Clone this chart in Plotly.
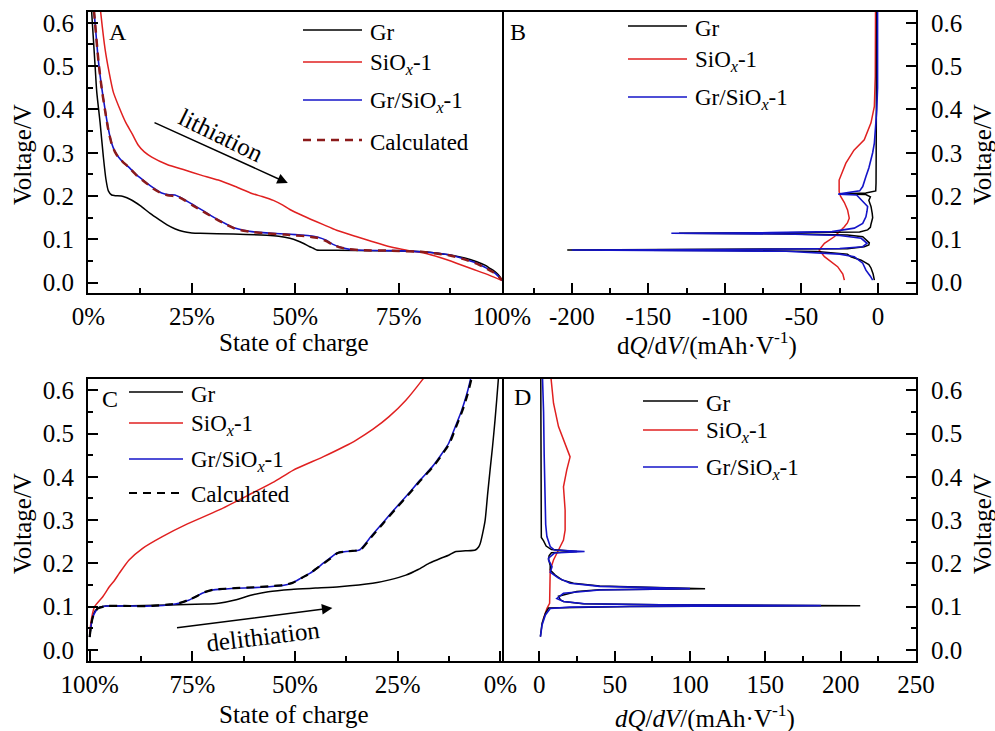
import plotly.graph_objects as go

W, H = 995, 731
FONT = "Liberation Serif, Times New Roman, serif"
BLACK, RED, BLUE, CALC_RED = "#000000", "#e02020", "#1414c8", "#8b1a1a"

# ---------------- A: lithiation, voltage vs state of charge ----------------
A_GR_SOC = [0.4, 0.8, 1.2, 1.6, 2.0, 2.8, 3.6, 4.2, 4.8, 5.6, 6.4, 8.4, 10.4, 12.5, 14.9, 17.0,
            18.9, 21.0, 22.9, 25.0, 27.0, 35.0, 43.1, 46.0, 48.7, 50.5, 51.9, 53.5, 54.4, 55.2,
            60.0, 70.0, 81.0, 87.4, 91.0, 93.9, 96.0, 97.1, 98.5, 99.5, 100.0]
A_GR_V = [0.70, 0.62, 0.56, 0.50, 0.44, 0.37, 0.29, 0.24, 0.212, 0.2025, 0.201, 0.199, 0.191,
          0.178, 0.160, 0.146, 0.134, 0.124, 0.118, 0.115, 0.114, 0.1125, 0.1094, 0.107, 0.1025,
          0.097, 0.091, 0.083, 0.0794, 0.0755, 0.075, 0.074, 0.0716, 0.064, 0.057, 0.0485, 0.040,
          0.033, 0.024, 0.014, 0.006]

A_SI_SOC = [2.6, 3.0, 4.0, 5.0, 6.0, 7.4, 9.0, 10.5, 12.0, 13.5, 15.3, 19.0, 23.3, 27.0, 31.4,
            35.5, 39.5, 42.0, 44.7, 47.0, 48.7, 52.0, 56.8, 60.0, 64.9, 68.0, 72.9, 77.0, 81.0,
            85.0, 89.0, 93.0, 97.0, 100.0]
A_SI_V = [0.66, 0.62, 0.54, 0.485, 0.44, 0.405, 0.37, 0.345, 0.318, 0.302, 0.290, 0.273, 0.260,
          0.249, 0.237, 0.222, 0.206, 0.199, 0.190, 0.179, 0.169, 0.154, 0.134, 0.121, 0.106,
          0.097, 0.083, 0.075, 0.069, 0.058, 0.045, 0.031, 0.017, 0.005]

A_MIX_SOC = [1.0, 1.4, 2.37, 3.2, 4.0, 4.8, 5.6, 6.4, 7.2, 8.4, 9.6, 11.5, 13.7, 15.7, 17.7, 19.5,
             20.9, 22.0, 23.3, 25.3, 27.4, 29.4, 31.4, 33.4, 35.4, 37.5, 39.5, 43.0, 47.5, 50.0,
             53.0, 55.5, 57.5, 59.0, 61.0, 63.2, 66.0, 72.9, 81.0, 84.5, 87.4, 90.5, 93.9, 96.0,
             97.9, 99.2, 100.0]
A_MIX_V = [0.66, 0.62, 0.514, 0.45, 0.40, 0.355, 0.322, 0.303, 0.291, 0.278, 0.268, 0.250, 0.233,
           0.219, 0.207, 0.203, 0.2025, 0.198, 0.191, 0.180, 0.168, 0.156, 0.145, 0.135, 0.126,
           0.121, 0.118, 0.115, 0.1125, 0.111, 0.109, 0.105, 0.098, 0.089, 0.082, 0.077, 0.075,
           0.074, 0.071, 0.068, 0.064, 0.056, 0.045, 0.035, 0.025, 0.014, 0.006]

A_CALC_SOC = [1.0, 1.4, 2.4, 3.2, 4.0, 4.8, 5.6, 6.4, 7.2, 8.4, 9.6, 11.5, 13.7, 15.7, 17.7, 19.5,
              21.0, 22.2, 23.5, 25.3, 27.4, 29.4, 31.4, 33.4, 35.4, 37.5, 39.5, 43.0, 47.5, 50.0,
              53.0, 55.5, 57.5, 59.0, 61.0, 63.2, 66.0, 72.9, 81.0, 84.5, 87.4, 90.5, 93.9, 96.0,
              97.9, 99.2, 100.0]
A_CALC_V = [0.66, 0.62, 0.512, 0.448, 0.398, 0.353, 0.321, 0.302, 0.290, 0.278, 0.268, 0.249,
            0.232, 0.217, 0.206, 0.201, 0.200, 0.196, 0.189, 0.178, 0.166, 0.155, 0.144, 0.134,
            0.125, 0.120, 0.117, 0.114, 0.111, 0.109, 0.107, 0.103, 0.096, 0.088, 0.081, 0.077,
            0.075, 0.074, 0.071, 0.067, 0.063, 0.055, 0.044, 0.034, 0.024, 0.014, 0.006]

# ---------------- B: lithiation, dQ/dV vs voltage ----------------
B_GR_DQ = [-0.8, -0.8, -1.0, -1.2, -1.3, -1.5, -8, -25, -8, -5, -6, -4.6, -3.8, -3.5, -4.6, -5,
           -6.8, -12, -60, -130, -60, -20, -10, -7.9, -5.7, -6, -9, -20, -100, -203, -100, -40,
           -20, -17.7, -11, -6, -4.6, -3.2, -2.4]
B_GR_V = [0.66, 0.50, 0.40, 0.30, 0.23, 0.212, 0.207, 0.2045, 0.2035, 0.198, 0.190, 0.176, 0.160,
          0.150, 0.135, 0.128, 0.122, 0.117, 0.1155, 0.1140, 0.1125, 0.110, 0.106, 0.099, 0.092,
          0.087, 0.083, 0.0785, 0.0765, 0.0755, 0.0745, 0.072, 0.066, 0.060, 0.052, 0.042, 0.034,
          0.020, 0.006]

B_SI_DQ = [-1.6, -1.8, -2.4, -4.6, -9, -15.7, -21, -24.3, -25.4, -25.4, -24.5, -22, -19.9, -18.8,
           -20, -22, -28.6, -35, -38.5, -35, -26.4, -23, -22]
B_SI_V = [0.66, 0.476, 0.407, 0.369, 0.330, 0.306, 0.276, 0.245, 0.237, 0.210, 0.200, 0.185,
          0.168, 0.149, 0.138, 0.129, 0.106, 0.091, 0.0755, 0.060, 0.037, 0.020, 0.006]

B_MIX_DQ = [-0.3, -0.3, -0.8, -1.5, -2.4, -3.5, -4.6, -6, -7.9, -9, -10, -12, -26, -14, -11, -8.5,
            -6.8, -7.2, -7.9, -10, -15.5, -30, -70, -135, -60, -25, -11, -7.2, -10, -25, -100,
            -200, -60, -25, -15.5, -10, -7.9, -5, -3.5]
B_MIX_V = [0.66, 0.45, 0.40, 0.36, 0.322, 0.300, 0.283, 0.265, 0.245, 0.232, 0.222, 0.212, 0.2045,
           0.2025, 0.191, 0.183, 0.176, 0.165, 0.152, 0.137, 0.126, 0.118, 0.1155, 0.1142, 0.1125,
           0.109, 0.1025, 0.091, 0.083, 0.079, 0.0765, 0.0755, 0.0725, 0.066, 0.060, 0.045,
           0.029, 0.015, 0.006]

# ---------------- C: delithiation, voltage vs state of charge ----------------
C_GR_SOC = [100.0, 99.6, 99.0, 98.0, 96.0, 92.8, 80.7, 72.0, 68.6, 64.6, 60.5, 56.5, 50.9, 45.0,
            39.2, 31.1, 27.0, 23.0, 20.0, 17.4, 14.5, 12.6, 11.0, 8.5, 6.1, 5.3, 4.9, 4.3, 3.7,
            3.1, 2.5, 1.9, 1.3, 0.5, 0.3]
C_GR_V = [0.030, 0.060, 0.085, 0.097, 0.1015, 0.1016, 0.104, 0.106, 0.108, 0.1155, 0.127, 0.1347,
          0.140, 0.143, 0.146, 0.154, 0.162, 0.173, 0.186, 0.200, 0.212, 0.219, 0.227, 0.229,
          0.231, 0.238, 0.246, 0.270, 0.300, 0.360, 0.416, 0.470, 0.531, 0.624, 0.66]

C_SI_SOC = [100.0, 99.5, 98.8, 96.8, 95.2, 94.0, 92.8, 90.4, 87.1, 82.3, 76.7, 68.6, 60.5, 55.0,
            50.5, 43.2, 38.0, 35.1, 31.0, 27.1, 23.0, 19.0, 17.0]
C_SI_V = [0.040, 0.075, 0.100, 0.123, 0.146, 0.160, 0.177, 0.208, 0.235, 0.262, 0.289, 0.323,
          0.362, 0.389, 0.415, 0.446, 0.470, 0.485, 0.510, 0.539, 0.577, 0.624, 0.65]

C_MIX_SOC = [100.0, 99.6, 99.2, 98.5, 98.0, 96.0, 90.0, 84.7, 80.0, 78.3, 75.9, 74.0, 72.6, 70.2,
             67.0, 64.6, 60.0, 56.5, 53.0, 50.9, 48.5, 46.4, 44.5, 43.2, 41.5, 39.8, 38.0, 36.0,
             34.3, 31.5, 28.7, 25.5, 22.3, 19.5, 16.6, 14.5, 12.6, 11.0, 9.4, 8.2, 7.3, 6.5]
C_MIX_V = [0.030, 0.060, 0.077, 0.090, 0.096, 0.1015, 0.1016, 0.1016, 0.105, 0.108, 0.115, 0.124,
           0.131, 0.1386, 0.141, 0.1425, 0.144, 0.146, 0.149, 0.154, 0.166, 0.177, 0.190, 0.200,
           0.212, 0.224, 0.227, 0.229, 0.231, 0.262, 0.293, 0.328, 0.362, 0.393, 0.423, 0.450,
           0.477, 0.515, 0.554, 0.590, 0.624, 0.66]

C_CALC_SOC = [100.0, 99.6, 99.2, 98.5, 98.0, 96.0, 90.0, 84.7, 80.0, 78.0, 75.5, 73.6, 72.2, 70.0,
              67.0, 64.6, 60.0, 56.5, 53.0, 50.6, 48.3, 46.2, 44.4, 43.0, 41.3, 39.6, 38.0, 36.0,
              34.1, 31.3, 28.5, 25.3, 22.1, 19.3, 16.4, 14.3, 12.4, 10.8, 9.2, 8.0, 7.1, 6.3]
C_CALC_V = [0.030, 0.060, 0.077, 0.090, 0.096, 0.1015, 0.1016, 0.1018, 0.106, 0.109, 0.117, 0.126,
            0.133, 0.139, 0.1415, 0.143, 0.145, 0.147, 0.150, 0.155, 0.167, 0.178, 0.191, 0.200,
            0.212, 0.224, 0.227, 0.229, 0.231, 0.262, 0.293, 0.328, 0.362, 0.393, 0.423, 0.450,
            0.477, 0.515, 0.554, 0.590, 0.624, 0.66]

# ---------------- D: delithiation, dQ/dV vs voltage ----------------
D_GR_DQ = [0.9, 0.9, 1.1, 1.3, 2.8, 4.5, 8, 25, 8, 6.5, 6.1, 7.2, 7.2, 10.5, 15, 22.6, 40, 110,
           40, 24.8, 12.7, 14, 16, 29, 80, 213, 60, 20, 6.1, 4, 1.8, 0.7]
D_GR_V = [0.66, 0.50, 0.35, 0.26, 0.252, 0.240, 0.232, 0.2275, 0.2245, 0.218, 0.210, 0.195,
          0.185, 0.173, 0.162, 0.154, 0.148, 0.1415, 0.139, 0.135, 0.124, 0.116, 0.112, 0.107,
          0.1045, 0.1025, 0.1005, 0.099, 0.097, 0.085, 0.062, 0.031]

D_SI_DQ = [6.8, 9.4, 12.7, 17.1, 20.4, 18.2, 16, 17.1, 17.1, 16, 12.7, 9.4, 7.2, 6.8, 6.8, 5, 4,
           2.5]
D_SI_V = [0.66, 0.570, 0.516, 0.477, 0.446, 0.416, 0.377, 0.323, 0.277, 0.254, 0.231, 0.208,
          0.185, 0.146, 0.108, 0.096, 0.085, 0.070]

D_MIX_DQ = [1.8, 2.8, 3.2, 3.6, 4.2, 5, 7.2, 10, 30, 10, 6.1, 6.1, 8.4, 7.2, 12.7, 20.4, 40, 100,
            40, 16, 11.6, 16, 30, 80, 187, 60, 20, 7.2, 4, 1.8, 0.7]
D_MIX_V = [0.66, 0.55, 0.45, 0.35, 0.29, 0.262, 0.239, 0.231, 0.2275, 0.224, 0.212, 0.208, 0.192,
           0.180, 0.166, 0.154, 0.147, 0.1418, 0.1385, 0.131, 0.119, 0.112, 0.107, 0.1045, 0.1025,
           0.1005, 0.099, 0.096, 0.081, 0.058, 0.031]

# ---------------- axis ticks ----------------
SOC_TICKS = [0, 25, 50, 75, 100]
SOC_TICK_TEXT = ["0%", "25%", "50%", "75%", "100%"]
V_TICKS = [0.0, 0.1, 0.2, 0.3, 0.4, 0.5, 0.6]
B_TICKS = [-200, -150, -100, -50, 0]
B_TICK_TEXT = ["-200", "-150", "-100", "-50", "0"]
D_TICKS = [0, 50, 100, 150, 200, 250]


def xp(px):
    return px / W


def yp(py):
    return 1 - py / H


fig = go.Figure()


def add_line(x, y, xa, ya, color, width=1.5, dash=None, shape="linear"):
    fig.add_trace(go.Scatter(
        x=x, y=y, xaxis=xa, yaxis=ya, mode="lines", showlegend=False, hoverinfo="skip",
        line=dict(color=color, width=width, dash=dash, shape=shape, smoothing=0.6)))


# panel A
add_line(A_GR_SOC, A_GR_V, "x", "y", BLACK, shape="spline")
add_line(A_SI_SOC, A_SI_V, "x", "y", RED, shape="spline")
add_line(A_MIX_SOC, A_MIX_V, "x", "y", BLUE, 1.6, shape="spline")
add_line(A_CALC_SOC, A_CALC_V, "x", "y", CALC_RED, 2.5, dash="8px,6px", shape="spline")
# panel B
add_line(B_SI_DQ, B_SI_V, "x2", "y2", RED)
add_line(B_GR_DQ, B_GR_V, "x2", "y2", BLACK)
add_line(B_MIX_DQ, B_MIX_V, "x2", "y2", BLUE, 1.6)
# panel C
add_line(C_GR_SOC, C_GR_V, "x3", "y3", BLACK, shape="spline")
add_line(C_SI_SOC, C_SI_V, "x3", "y3", RED, shape="spline")
add_line(C_MIX_SOC, C_MIX_V, "x3", "y3", BLUE, 1.6, shape="spline")
add_line(C_CALC_SOC, C_CALC_V, "x3", "y3", BLACK, 2.2, dash="8px,6px", shape="spline")
# panel D
add_line(D_SI_DQ, D_SI_V, "x4", "y4", RED)
add_line(D_GR_DQ, D_GR_V, "x4", "y4", BLACK)
add_line(D_MIX_DQ, D_MIX_V, "x4", "y4", BLUE, 1.6)

tickfont = dict(family=FONT, size=25, color="black")


def axis(domain, anchor, rng, standoff, mirror=True, **kw):
    d = dict(domain=domain, anchor=anchor, range=rng, showline=True, linecolor="black",
             linewidth=2, mirror=mirror, ticks="inside", ticklen=10, tickwidth=1.5,
             tickcolor="black", showgrid=False, zeroline=False, tickfont=tickfont,
             ticklabelstandoff=standoff, automargin=False)
    d.update(kw)
    return d


def minor(dtick):
    return dict(ticks="inside", ticklen=5, tickwidth=1.5, tickcolor="black", dtick=dtick,
                showgrid=False)


XL = [xp(88), xp(502)]
XR = [xp(502), xp(916)]
YT = [yp(293), yp(12)]
YB = [yp(661), yp(379)]
VR_TOP = [-0.0238, 0.625]
VR_BOT = [-0.0254, 0.626]

fig.update_layout(
    width=W, height=H, margin=dict(l=0, r=0, t=0, b=0),
    paper_bgcolor="white", plot_bgcolor="white",
    xaxis=axis(XL, "y", [-0.12, 100], 0, tickvals=SOC_TICKS, ticktext=SOC_TICK_TEXT,
               minor=minor(12.5)),
    yaxis=axis(YT, "x", VR_TOP, 7, tickvals=V_TICKS, tickformat=".1f", minor=minor(0.05)),
    xaxis2=axis(XR, "y2", [-245.6, 24.8], 0, tickvals=B_TICKS, ticktext=B_TICK_TEXT,
                minor=minor(25)),
    yaxis2=axis(YT, "x2", VR_TOP, 8, mirror=False, side="right", tickvals=V_TICKS,
                tickformat=".1f", minor=minor(0.05)),
    xaxis3=axis(XL, "y3", [100.4, -0.4], 0, tickvals=SOC_TICKS, ticktext=SOC_TICK_TEXT,
                minor=minor(12.5)),
    yaxis3=axis(YB, "x3", VR_BOT, 7, tickvals=V_TICKS, tickformat=".1f", minor=minor(0.05)),
    xaxis4=axis(XR, "y4", [-24.8, 250.01], 0, tickvals=D_TICKS, minor=minor(25)),
    yaxis4=axis(YB, "x4", VR_BOT, 8, mirror=False, side="right", tickvals=V_TICKS,
                tickformat=".1f", minor=minor(0.05)),
)

ann = []
shapes = []


def text(px, py, s, size=25, angle=0, xanchor="center", yanchor="middle"):
    ann.append(dict(x=xp(px), y=yp(py), xref="paper", yref="paper", text=s, showarrow=False,
                    textangle=angle, xanchor=xanchor, yanchor=yanchor,
                    font=dict(family=FONT, size=size, color="black")))


# axis titles
text(293, 342, "State of charge")
text(707, 343, "d<i>Q</i>/d<i>V</i>/(mAh·V<sup>-1</sup>)")
text(293, 714, "State of charge")
text(705, 716, "<i>dQ</i>/<i>dV</i>/(mAh·V<sup>-1</sup>)")
for cx, cy in [(22, 155), (982, 155), (22, 524), (982, 524)]:
    text(cx, cy, "Voltage/V", angle=-90)

# panel letters
text(118, 32, "A", size=24)
text(518, 32, "B", size=24)
text(110, 399, "C", size=24)
text(522, 397, "D", size=24)

SIOX = "SiO<sub><i>x</i></sub>-1"
MIX = "Gr/SiO<sub><i>x</i></sub>-1"


def legend(x0, x1, rows):
    for py, color, dash, width, label in rows:
        shapes.append(dict(type="line", xref="paper", yref="paper", x0=xp(x0), x1=xp(x1),
                           y0=yp(py), y1=yp(py),
                           line=dict(color=color, width=width, dash=dash)))
        text(x1 + 6, py + 2, label, size=23, xanchor="left")


legend(303, 362, [(30, BLACK, None, 1.5, "Gr"), (62, RED, None, 1.5, SIOX),
                  (100, BLUE, None, 1.6, MIX), (140, CALC_RED, "8px,6px", 2.5, "Calculated")])
legend(628, 687, [(26, BLACK, None, 1.5, "Gr"), (59, RED, None, 1.5, SIOX),
                  (97, BLUE, None, 1.6, MIX)])
legend(129, 183, [(392, BLACK, None, 1.5, "Gr"), (423, RED, None, 1.5, SIOX),
                  (459, BLUE, None, 1.6, MIX), (493, BLACK, "8px,6px", 2.2, "Calculated")])
legend(643, 698, [(401, BLACK, None, 1.5, "Gr"), (430, RED, None, 1.5, SIOX),
                  (467, BLUE, None, 1.6, MIX)])

# process arrows
ann.append(dict(x=48.2, y=0.230, ax=15.6, ay=0.371, xref="x", yref="y", axref="x", ayref="y",
                text="", showarrow=True, arrowhead=2, arrowsize=1.4, arrowwidth=1.5,
                arrowcolor="black"))
ann.append(dict(x=32.2, y=0.341, xref="x", yref="y", text="lithiation", showarrow=False,
                textangle=26, font=dict(family=FONT, size=25, color="black")))
ann.append(dict(x=40.9, y=0.097, ax=79.1, ay=0.051, xref="x3", yref="y3", axref="x3",
                ayref="y3", text="", showarrow=True, arrowhead=2, arrowsize=1.4,
                arrowwidth=1.5, arrowcolor="black"))
ann.append(dict(x=57.9, y=0.031, xref="x3", yref="y3", text="delithiation", showarrow=False,
                textangle=-7, font=dict(family=FONT, size=25, color="black")))

fig.update_layout(annotations=ann, shapes=shapes)
fig.write_html("out.html")
